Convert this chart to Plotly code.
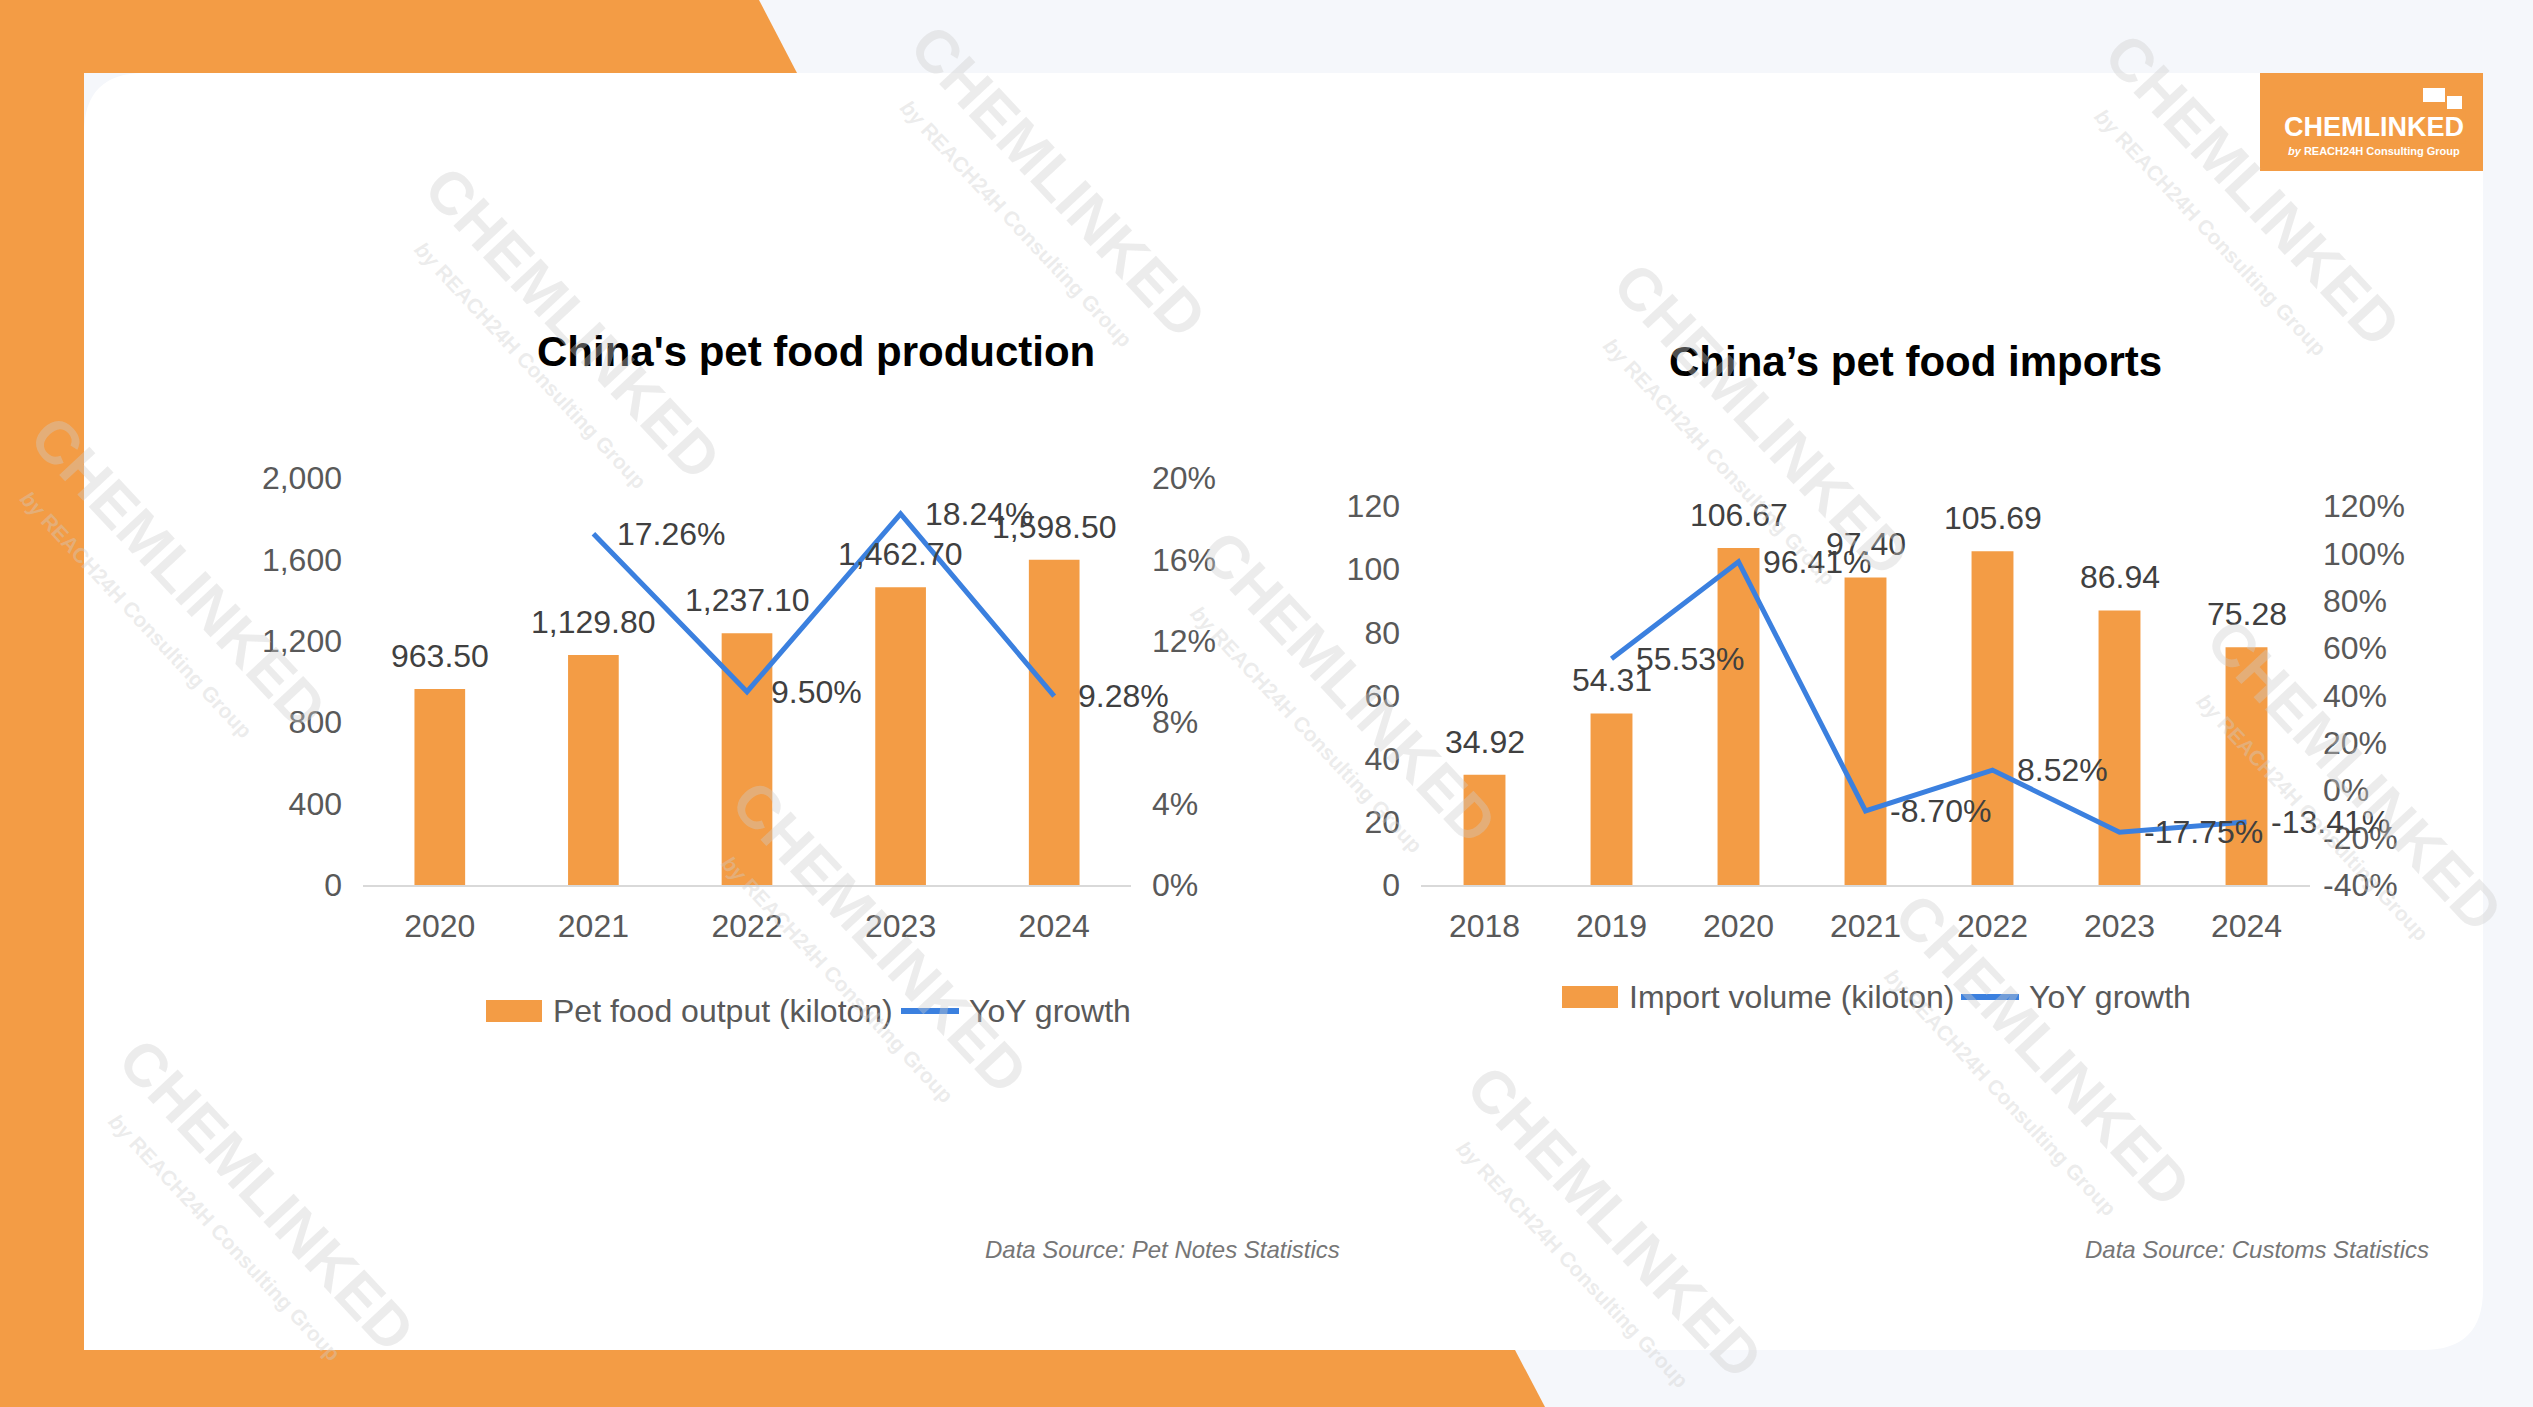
import plotly.graph_objects as go

W, H = 2533, 1407

# ---------------- data ----------------
prod_years = ["2020", "2021", "2022", "2023", "2024"]
prod_output = [963.50, 1129.80, 1237.10, 1462.70, 1598.50]
prod_yoy_years = ["2021", "2022", "2023", "2024"]
prod_yoy = [17.26, 9.50, 18.24, 9.28]
prod_left_ticks = [0, 400, 800, 1200, 1600, 2000]
prod_right_ticks = [0, 4, 8, 12, 16, 20]

imp_years = ["2018", "2019", "2020", "2021", "2022", "2023", "2024"]
imp_volume = [34.92, 54.31, 106.67, 97.40, 105.69, 86.94, 75.28]
imp_yoy_years = ["2019", "2020", "2021", "2022", "2023", "2024"]
imp_yoy = [55.53, 96.41, -8.70, 8.52, -17.75, -13.41]
imp_left_ticks = [0, 20, 40, 60, 80, 100, 120]
imp_right_ticks = [-40, -20, 0, 20, 40, 60, 80, 100, 120]

# ---------------- styles ----------------
ORANGE = "#F39C45"
BLUE = "#3B80DF"
BG = "#F5F7FB"
FONT = "Liberation Sans, Arial, sans-serif"
TICK_C = "#595959"
LABEL_C = "#404040"
FS = 32


def px(x):
    return x / W


def py(y):
    return 1 - y / H


fig = go.Figure()

fig.add_trace(go.Bar(x=prod_years, y=prod_output, xaxis="x", yaxis="y",
                     marker=dict(color=ORANGE, line=dict(width=0)), width=0.33,
                     name="Pet food output (kiloton)", showlegend=False))
fig.add_trace(go.Scatter(x=prod_yoy_years, y=prod_yoy, xaxis="x", yaxis="y2",
                         mode="lines", line=dict(color=BLUE, width=5),
                         name="YoY growth", showlegend=False))
fig.add_trace(go.Bar(x=imp_years, y=imp_volume, xaxis="x2", yaxis="y3",
                     marker=dict(color=ORANGE, line=dict(width=0)), width=0.33,
                     name="Import volume (kiloton)", showlegend=False))
fig.add_trace(go.Scatter(x=imp_yoy_years, y=imp_yoy, xaxis="x2", yaxis="y4",
                         mode="lines", line=dict(color=BLUE, width=5),
                         name="YoY growth", showlegend=False))

annotations = []
# bar labels (category index positions on the category axes)
for cats, xs, ys, xr, yr in [(prod_years, prod_years, prod_output, "x", "y"),
                             (imp_years, imp_years, imp_volume, "x2", "y3")]:
    for xv, yv in zip(xs, ys):
        annotations.append(dict(x=cats.index(xv), y=yv, xref=xr, yref=yr, text=f"{yv:,.2f}",
                                showarrow=False, xanchor="center", yanchor="middle", yshift=33,
                                font=dict(size=FS, color=LABEL_C, family=FONT)))
# line labels
for cats, xs, ys, xr, yr in [(prod_years, prod_yoy_years, prod_yoy, "x", "y2"),
                             (imp_years, imp_yoy_years, imp_yoy, "x2", "y4")]:
    for xv, yv in zip(xs, ys):
        annotations.append(dict(x=cats.index(xv), y=yv, xref=xr, yref=yr, text=f"{yv:.2f}%",
                                showarrow=False, xanchor="left", xshift=22, yanchor="middle",
                                font=dict(size=FS, color=LABEL_C, family=FONT)))

# titles
annotations.append(dict(x=px(816), y=py(352), xref="paper", yref="paper", xanchor="center", yanchor="middle",
                        text="<b>China's pet food production</b>",
                        showarrow=False, font=dict(size=42, color="#000000", family=FONT)))
annotations.append(dict(x=px(1916), y=py(362), xref="paper", yref="paper", xanchor="center", yanchor="middle",
                        text="<b>China\u2019s pet food imports</b>",
                        showarrow=False, font=dict(size=42, color="#000000", family=FONT)))
# sources
annotations.append(dict(x=px(1342), y=py(1249), xref="paper", yref="paper", xanchor="right", yanchor="middle",
                        text="<i>Data Source: Pet Notes Statistics</i>", showarrow=False,
                        font=dict(size=24, color="#767676", family=FONT)))
annotations.append(dict(x=px(2431), y=py(1249), xref="paper", yref="paper", xanchor="right", yanchor="middle",
                        text="<i>Data Source: Customs Statistics</i>", showarrow=False,
                        font=dict(size=24, color="#767676", family=FONT)))

shapes = []


# manual legends
def legend(x0, yc, t1, t2, t1w, gap=9):
    shapes.append(dict(type="rect", xref="paper", yref="paper", x0=px(x0), x1=px(x0 + 56),
                       y0=py(yc + 11), y1=py(yc - 11), fillcolor=ORANGE, line=dict(width=0), layer="above"))
    tx = x0 + 56 + gap
    annotations.append(dict(x=px(tx), y=py(yc), xref="paper", yref="paper", xanchor="left", yanchor="middle",
                            text=t1, showarrow=False, font=dict(size=FS, color=TICK_C, family=FONT)))
    lx = tx + t1w + 10
    shapes.append(dict(type="line", xref="paper", yref="paper", x0=px(lx), x1=px(lx + 58), y0=py(yc), y1=py(yc),
                       line=dict(color=BLUE, width=6), layer="above"))
    annotations.append(dict(x=px(lx + 66), y=py(yc), xref="paper", yref="paper", xanchor="left", yanchor="middle",
                            text=t2, showarrow=False, font=dict(size=FS, color=TICK_C, family=FONT)))


legend(486, 1011, "Pet food output (kiloton)", "YoY growth", 340)
legend(1562, 997, "Import volume (kiloton)", "YoY growth", 324)


# background shapes
def path(pts, close=True):
    s = ""
    for cmd, coords in pts:
        s += cmd + " ".join(f"{px(a):.5f},{py(b):.5f}" for a, b in coords) + " "
    return s + ("Z" if close else "")


shapes.append(dict(type="path", xref="paper", yref="paper", layer="below", line=dict(width=0), fillcolor=ORANGE,
                   path=path([("M", [(0, 0)]), ("L", [(759, 0)]), ("L", [(797, 73)]), ("L", [(0, 73)])])))
shapes.append(dict(type="rect", xref="paper", yref="paper", layer="below", line=dict(width=0), fillcolor=ORANGE,
                   x0=0, x1=px(84), y0=0, y1=1))
shapes.append(dict(type="path", xref="paper", yref="paper", layer="below", line=dict(width=0), fillcolor=ORANGE,
                   path=path([("M", [(0, 1350)]), ("L", [(1515, 1350)]), ("L", [(1545, 1407)]), ("L", [(0, 1407)])])))
r = 60
shapes.append(dict(type="path", xref="paper", yref="paper", layer="below", line=dict(width=0), fillcolor="#FFFFFF",
                   path=path([("M", [(84 + r, 73)]), ("L", [(2483, 73)]), ("L", [(2483, 1350 - r)]),
                              ("Q", [(2483, 1350), (2483 - r, 1350)]), ("L", [(84, 1350)]),
                              ("L", [(84, 73 + r)]), ("Q", [(84, 73), (84 + r, 73)])])))

# watermarks (kept inside the picture)
wm_centers = [(1058, 182), (2253, 190), (573, 323), (1761, 420), (178, 573), (1349, 687),
              (2355, 775), (880, 937), (2043, 1050), (267, 1195), (1615, 1222)]
WM_C = "rgba(205,205,205,0.38)"
for cx, cy in wm_centers:
    annotations.append(dict(x=px(cx), y=py(cy), xref="paper", yref="paper", text="<b>CHEMLINKED</b>",
                            xanchor="center", yanchor="middle", textangle=47, showarrow=False,
                            font=dict(size=60, color=WM_C, family="Liberation Sans Narrow, Liberation Sans")))
    annotations.append(dict(x=px(cx), y=py(cy), xref="paper", yref="paper", xshift=-42, yshift=-42,
                            xanchor="center", yanchor="middle",
                            text="<b><i>by</i> REACH24H Consulting Group</b>",
                            textangle=47, showarrow=False,
                            font=dict(size=21, color=WM_C, family="Liberation Sans Narrow, Liberation Sans")))

# logo (on top)
shapes.append(dict(type="rect", xref="paper", yref="paper", layer="above", line=dict(width=0), fillcolor=ORANGE,
                   x0=px(2260), x1=px(2483), y0=py(171), y1=py(73)))
shapes.append(dict(type="rect", xref="paper", yref="paper", layer="above", line=dict(width=0), fillcolor="#FFFFFF",
                   x0=px(2423), x1=px(2445), y0=py(102), y1=py(88)))
shapes.append(dict(type="rect", xref="paper", yref="paper", layer="above", line=dict(width=0), fillcolor="#FFFFFF",
                   x0=px(2447), x1=px(2462), y0=py(109), y1=py(96)))
annotations.append(dict(x=px(2374), y=py(127), xref="paper", yref="paper", xanchor="center", yanchor="middle",
                        text="<b>CHEMLINKED</b>", bgcolor=ORANGE,
                        showarrow=False, font=dict(size=27, color="#FFFFFF",
                                                   family="Liberation Sans Narrow, Arial Narrow, Liberation Sans")))
annotations.append(dict(x=px(2374), y=py(151), xref="paper", yref="paper", xanchor="center", yanchor="middle",
                        text="<b><i>by</i> REACH24H Consulting Group</b>",
                        showarrow=False, font=dict(size=11, color="#FFFFFF",
                                                   family="Liberation Sans Narrow, Arial Narrow, Liberation Sans")))

tickfont = dict(size=FS, color=TICK_C, family=FONT)
common_y = dict(showgrid=False, zeroline=False, showline=False, ticks="", tickfont=tickfont,
                fixedrange=True, automargin=False, tickmode="array")
common_x = dict(type="category", showline=True, linecolor="#D9D9D9", linewidth=2, ticks="", tickfont=tickfont,
                showgrid=False, zeroline=False, ticklabelstandoff=12, automargin=False, fixedrange=True)

fig.update_layout(
    template="none",
    width=W, height=H, margin=dict(l=0, r=0, t=0, b=0, pad=0, autoexpand=False),
    paper_bgcolor=BG, plot_bgcolor="rgba(0,0,0,0)",
    showlegend=False,
    font=dict(family=FONT),
    xaxis=dict(domain=[px(363), px(1131)], anchor="y", categoryorder="array",
               categoryarray=prod_years, range=[-0.5, 4.5], **common_x),
    yaxis=dict(domain=[py(885), py(478)], anchor="x", range=[0, 2000], tickvals=prod_left_ticks,
               ticktext=[f"{v:,}" for v in prod_left_ticks], ticklabelstandoff=20, **common_y),
    yaxis2=dict(overlaying="y", side="right", anchor="x", range=[0, 20], tickvals=prod_right_ticks,
                ticktext=[f"{v}%" for v in prod_right_ticks], ticklabelstandoff=20, **common_y),
    xaxis2=dict(domain=[px(1421), px(2310)], anchor="y3", categoryorder="array",
                categoryarray=imp_years, range=[-0.5, 6.5], **common_x),
    yaxis3=dict(domain=[py(885), py(506)], anchor="x2", range=[0, 120], tickvals=imp_left_ticks,
                ticktext=[str(v) for v in imp_left_ticks], ticklabelstandoff=20, **common_y),
    yaxis4=dict(overlaying="y3", side="right", anchor="x2", range=[-40, 120], tickvals=imp_right_ticks,
                ticktext=[f"{v}%" for v in imp_right_ticks], ticklabelstandoff=12, **common_y),
    annotations=annotations,
    shapes=shapes,
)

fig.write_html("out.html")
